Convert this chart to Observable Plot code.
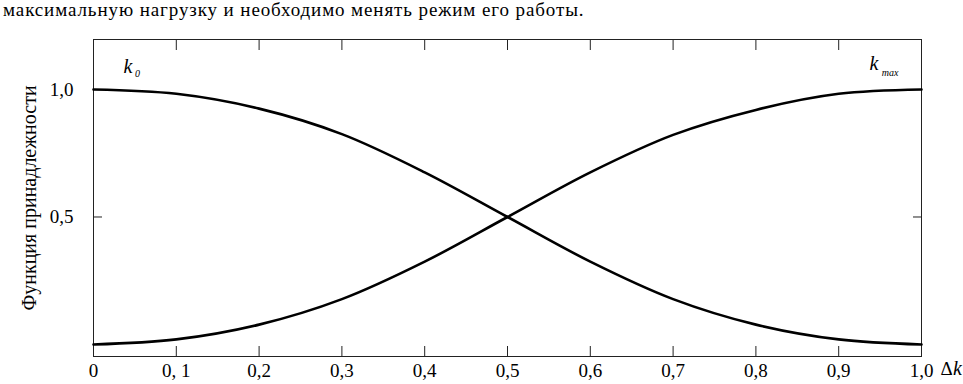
<!DOCTYPE html>
<html><head><meta charset="utf-8">
<script src="https://cdn.jsdelivr.net/npm/d3@7"></script>
<script src="https://cdn.jsdelivr.net/npm/@observablehq/plot@0.6"></script>
<style>
body{margin:0;background:#fff;}
#cap{font-family:"Liberation Serif","DejaVu Serif","Liberation Sans",sans-serif;font-size:19px;letter-spacing:0.9px;height:20px;line-height:20px;padding-left:3px;white-space:nowrap;color:#000}
#chart svg{display:block}
</style></head><body>
<div id="cap"></div>
<div id="chart"></div>
<script>
const captionText = "максимальную нагрузку и необходимо менять режим его работы.";
const yAxisLabel = "Функция принадлежности";
const xValues = [0, 0.1, 0.2, 0.3, 0.4, 0.5, 0.6, 0.7, 0.8, 0.9, 1.0];
const k0Values = [1.0, 0.983, 0.925, 0.825, 0.675, 0.5, 0.325, 0.178, 0.078, 0.02, 0.0];
const kmaxValues = [0.0, 0.02, 0.078, 0.178, 0.325, 0.5, 0.675, 0.822, 0.92, 0.983, 1.0];
const xTicks = [0, 0.1, 0.2, 0.3, 0.4, 0.5, 0.6, 0.7, 0.8, 0.9, 1.0];
const xTickLabels = ["0", "0, 1", "0,2", "0,3", "0,4", "0,5", "0,6", "0,7", "0,8", "0,9", "1,0"];
const yTicks = [0.5, 1.0];
const yTickLabels = ["0,5", "1,0"];
const kLabels = [
  {x: 0.047, y: 1.09, t: "k"},
  {x: 0.948, y: 1.10, t: "k"}
];
const kSubs = [
  {x: 0.050, y: 1.06, t: "0"},
  {x: 0.952, y: 1.066, t: "max"}
];

document.getElementById("cap").textContent = captionText;

const k0Data = xValues.map((x, i) => ({x, y: k0Values[i]}));
const kmaxData = xValues.map((x, i) => ({x, y: kmaxValues[i]}));
const xFmt = d => xTickLabels[xTicks.findIndex(t => Math.abs(t - d) < 1e-9)];
const yFmt = d => yTickLabels[yTicks.findIndex(t => Math.abs(t - d) < 1e-9)];
const font = "'Liberation Serif', 'DejaVu Serif', 'Liberation Sans', sans-serif";

const chart = Plot.plot({
  width: 963,
  height: 364,
  marginTop: 19,
  marginBottom: 28,
  marginLeft: 93,
  marginRight: 42,
  style: {fontFamily: font, background: "#fff", color: "#000"},
  x: {domain: [0, 1]},
  y: {domain: [-0.047, 1.196]},
  marks: [
    Plot.frame({stroke: "#222", strokeWidth: 1}),
    Plot.axisX(xTicks.slice(1, -1), {anchor: "bottom", tickSize: -10, fill: "none", label: null, stroke: "#222"}),
    Plot.axisX(xTicks.slice(1, -1), {anchor: "top", tickSize: -10, fill: "none", label: null, stroke: "#222"}),
    Plot.axisX(xTicks, {anchor: "bottom", tickSize: 0, tickPadding: 7, tickFormat: xFmt, label: null, fontSize: 19, fontFamily: font, fill: "#000"}),
    Plot.axisY(yTicks, {anchor: "left", tickSize: -9, fill: "none", label: null, stroke: "#222"}),
    Plot.axisY(yTicks, {anchor: "right", tickSize: -9, fill: "none", label: null, stroke: "#222"}),
    Plot.axisY(yTicks, {anchor: "left", tickSize: 0, tickPadding: 20, tickFormat: yFmt, label: null, fontSize: 19, fontFamily: font, fill: "#000"}),
    Plot.text([yAxisLabel], {frameAnchor: "left", textAnchor: "middle", dx: -64, rotate: -90, fontSize: 20, fontFamily: font, fill: "#000"}),
    Plot.text(["Δ"], {x: [1], frameAnchor: "bottom", dx: 25, dy: 18, fontSize: 19, fontFamily: font, fill: "#000"}),
    Plot.text(["k"], {x: [1], frameAnchor: "bottom", dx: 36, dy: 18, fontSize: 20, fontFamily: font, fontStyle: "italic", fill: "#000"}),
    Plot.line(k0Data, {x: "x", y: "y", curve: "catmull-rom", stroke: "#000", strokeWidth: 2.6}),
    Plot.line(kmaxData, {x: "x", y: "y", curve: "catmull-rom", stroke: "#000", strokeWidth: 2.6}),
    Plot.text(kLabels, {x: "x", y: "y", text: "t", fontSize: 20, textAnchor: "end", fontFamily: font, fontStyle: "italic", fill: "#000"}),
    Plot.text(kSubs, {x: "x", y: "y", text: "t", fontSize: 10, textAnchor: "start", fontFamily: font, fontStyle: "italic", fill: "#000"})
  ]
});
document.getElementById("chart").appendChild(chart);
</script>
</body></html>
